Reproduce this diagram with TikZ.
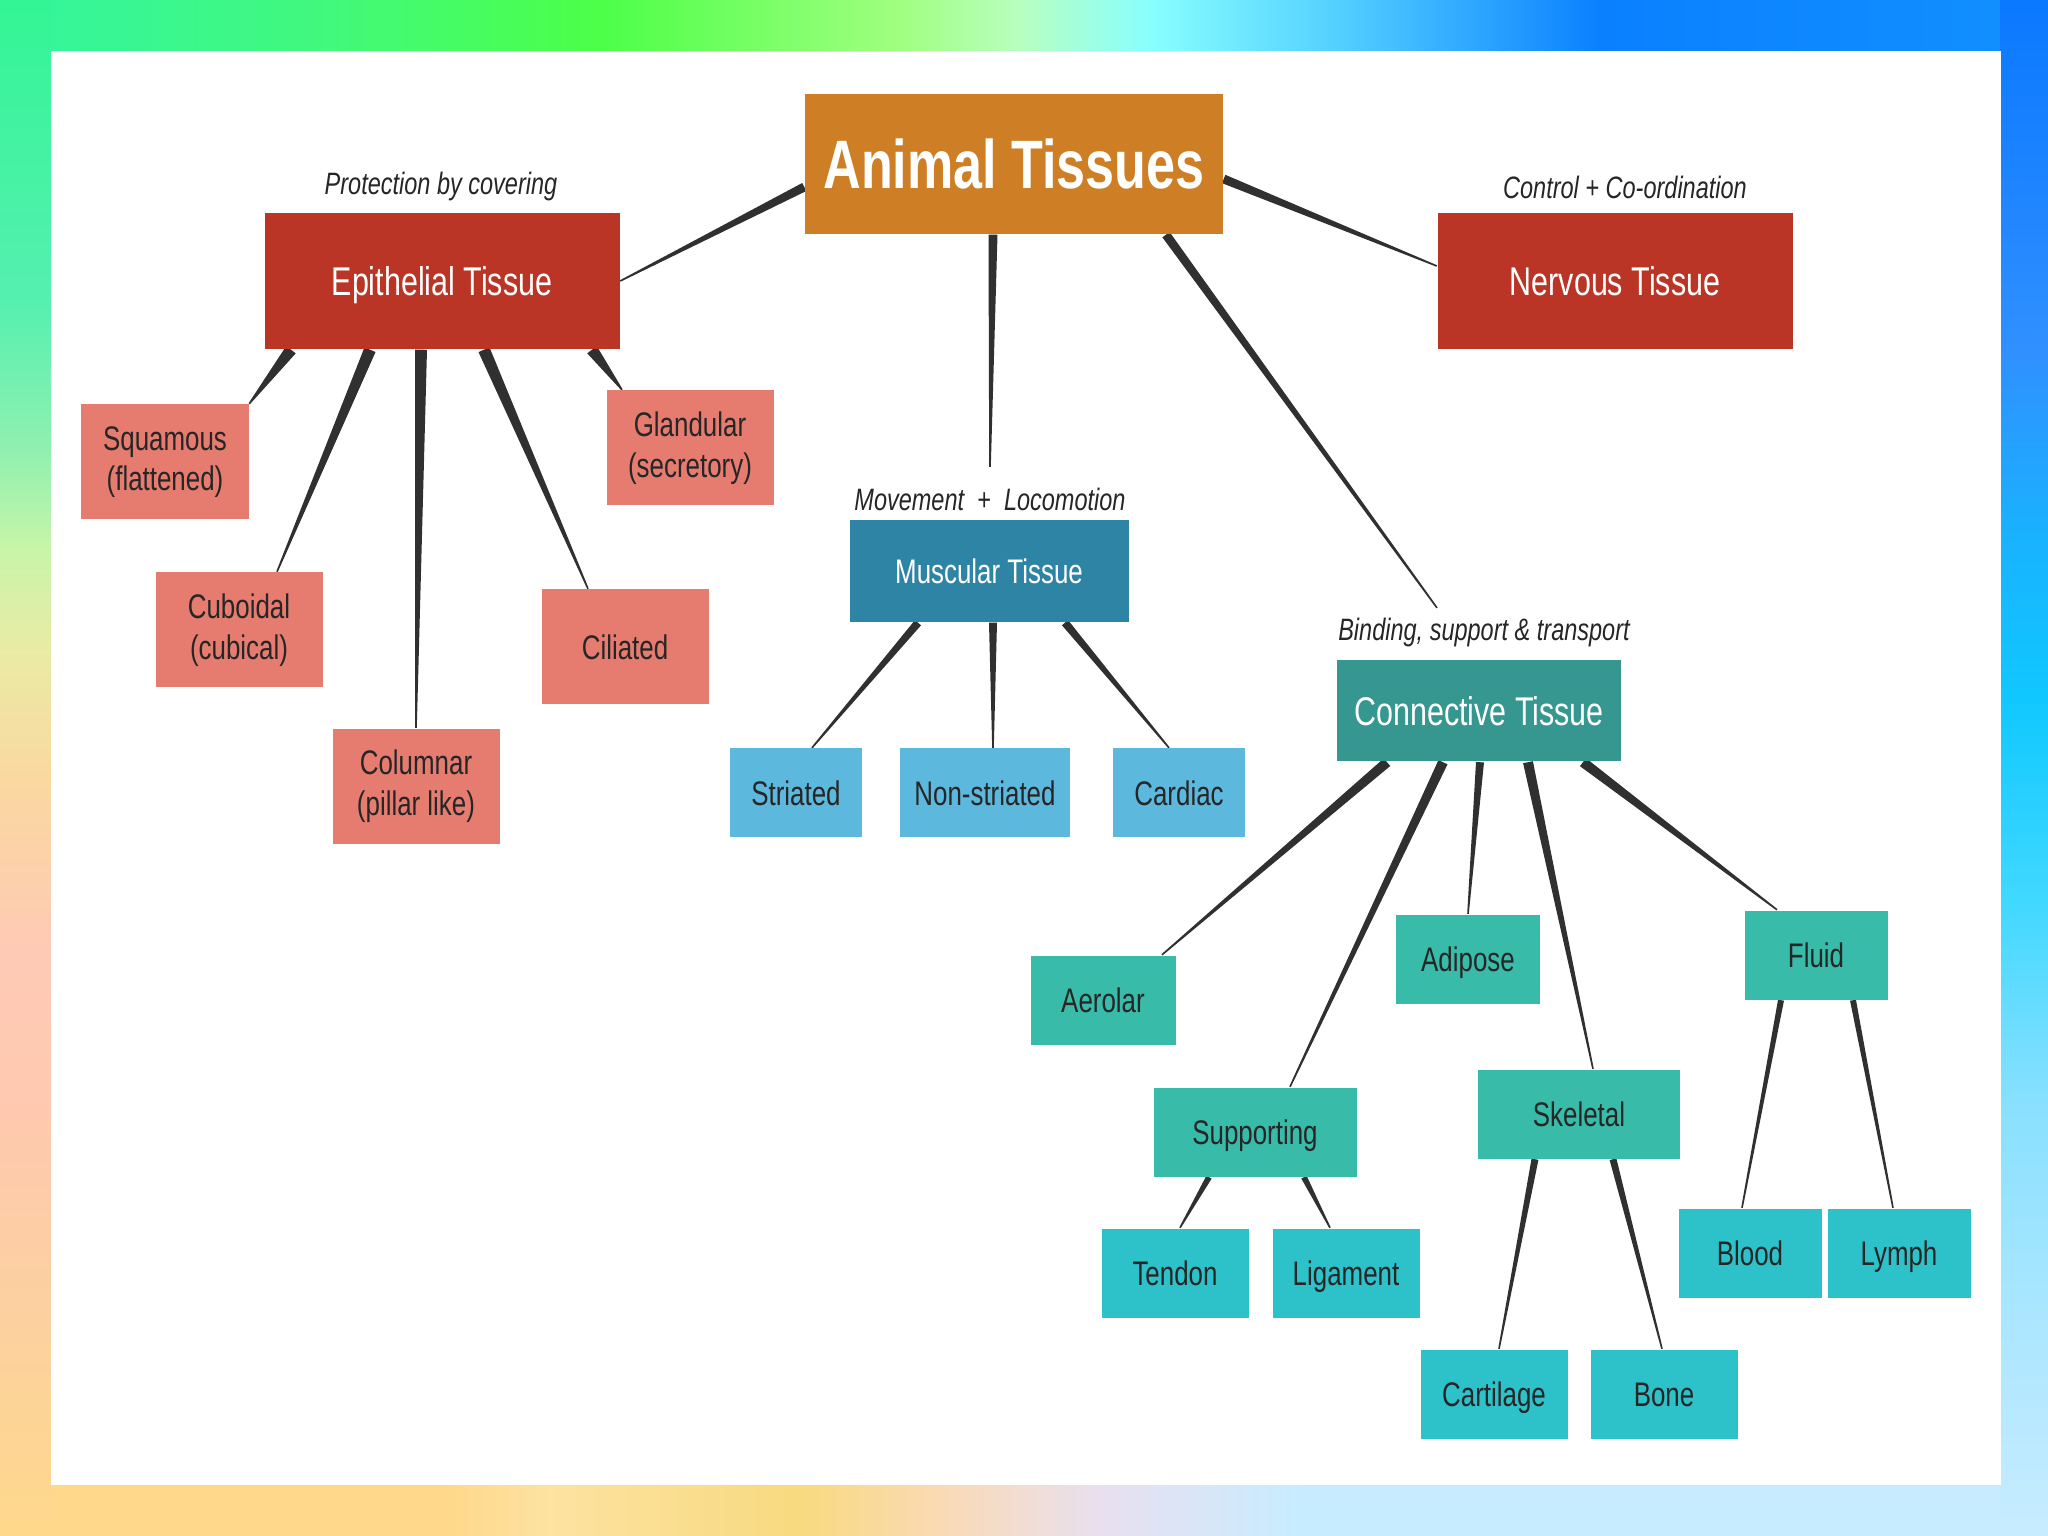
\documentclass[tikz,border=0pt]{standalone}
\usepackage{fontspec}
\setmainfont[FakeStretch=0.76]{Liberation Sans}
\usetikzlibrary{calc}
\pgfdeclarelayer{bg}
\pgfsetlayers{bg,main}
\definecolor{rootfill}{HTML}{CE7F26}
\definecolor{tisfill}{HTML}{BB3526}
\definecolor{epifill}{HTML}{E57C6F}
\definecolor{muscfill}{HTML}{2E84A4}
\definecolor{mkidfill}{HTML}{5DB8DE}
\definecolor{connfill}{HTML}{35978F}
\definecolor{ckidfill}{HTML}{38BBA9}
\definecolor{leaffill}{HTML}{2DC1C9}
\definecolor{ink}{HTML}{262626}
\definecolor{link}{HTML}{303030}

% tapered connector: thick at the parent, thin at the child
\newcommand{\taper}[3][0.05]{%
  \fill[link] ($#2!#1cm!90:#3$) -- ($#3!0.008cm!-90:#2$)
    -- ($#3!0.008cm!90:#2$) -- ($#2!#1cm!-90:#3$) -- cycle;}

\begin{document}
\begin{tikzpicture}[
  box/.style={inner sep=0pt, align=center, text=ink, font=\fontsize{9.7}{11.5}\selectfont},
  oneline/.style={text height=6.95pt, text depth=0pt},
  rootbox/.style={box, fill=rootfill, text=white, minimum width=4.18cm, minimum height=1.40cm,
    font=\fontsize{19.5}{22}\selectfont\bfseries, text height=14pt, text depth=0pt},
  tisbox/.style={box, fill=tisfill, text=white, minimum width=3.55cm, minimum height=1.36cm,
    font=\fontsize{11.4}{13}\selectfont, text height=8.2pt, text depth=0pt},
  epibox/.style={box, fill=epifill, minimum width=1.67cm, minimum height=1.15cm},
  muscbox/.style={box, oneline, fill=muscfill, text=white, minimum width=2.79cm, minimum height=1.02cm},
  mkid/.style={box, oneline, fill=mkidfill, minimum height=0.89cm},
  connbox/.style={box, fill=connfill, text=white, minimum width=2.84cm, minimum height=1.01cm,
    font=\fontsize{11.4}{13}\selectfont, text height=8.2pt, text depth=0pt},
  ckid/.style={box, oneline, fill=ckidfill, minimum height=0.89cm},
  leaf/.style={box, oneline, fill=leaffill, minimum width=1.47cm, minimum height=0.89cm},
  note/.style={inner sep=0pt, text=ink, font=\itshape\fontsize{8.8}{10}\selectfont},
]
\useasboundingbox (0,0) rectangle (20.48,-15.36);

% gradient frame
\begin{pgfonlayer}{bg}
\foreach \xa/\ha/\xb/\hb in {0/33F5A0/3/40F880, 3/40F880/6/4CFF48, 6/4CFF48/9/A0FF80,
    9/A0FF80/10.2/B8FFC0, 10.2/B8FFC0/11.5/88FFFF, 11.5/88FFFF/13.5/50CCFF,
    13.5/50CCFF/16/0A80FF, 16/0A80FF/20.48/1290FF}{
  \definecolor{ca}{HTML}{\ha}\definecolor{cb}{HTML}{\hb}
  \shade[left color=ca, right color=cb] (\xa,0) rectangle (\xb,-0.52);}
\foreach \xa/\ha/\xb/\hb in {0/FFD88C/4.5/FFD88C, 4.5/FFD88C/5.5/FDE2A0, 5.5/FDE2A0/8/F8DA80,
    8/F8DA80/9.5/FADAB8, 9.5/FADAB8/11/E8E0F0, 11/E8E0F0/13/C8ECFF, 13/C8ECFF/20.48/C8ECFF}{
  \definecolor{ca}{HTML}{\ha}\definecolor{cb}{HTML}{\hb}
  \shade[left color=ca, right color=cb] (\xa,-14.84) rectangle (\xb,-15.36);}
\foreach \ya/\ha/\yb/\hb in {0/33F595/3/55F0B0, 3/55F0B0/4.5/90F0B0, 4.5/90F0B0/5.5/C8F5A8,
    5.5/C8F5A8/6.5/EAEBA5, 6.5/EAEBA5/7.8/FAD8A0, 7.8/FAD8A0/9.5/FFCAB5, 9.5/FFCAB5/11/FFC8B0,
    11/FFC8B0/13/FCD0A0, 13/FCD0A0/15.36/FFD88C}{
  \definecolor{ca}{HTML}{\ha}\definecolor{cb}{HTML}{\hb}
  \shade[top color=ca, bottom color=cb] (0,-\ya) rectangle (0.52,-\yb);}
\foreach \ya/\ha/\yb/\hb in {0/0A78FF/3.5/3090FF, 3.5/3090FF/5.5/18B4FF, 5.5/18B4FF/7/10C8FF,
    7/10C8FF/9/40D8FF, 9/40D8FF/11/88E0FF, 11/88E0FF/13/A8E6FF, 13/A8E6FF/15.36/C8ECFF}{
  \definecolor{ca}{HTML}{\ha}\definecolor{cb}{HTML}{\hb}
  \shade[top color=ca, bottom color=cb] (20.00,-\ya) rectangle (20.48,-\yb);}
\fill[white] (0.51,-0.51) rectangle (20.01,-14.85);
\end{pgfonlayer}

% root and the four tissues
\node[rootbox] (animal) at (10.14,-1.64) {Animal Tissues};
\node[tisbox] (epi) at (4.42,-2.81) {Epithelial Tissue};
\node[tisbox] (nerv) at (16.15,-2.81) {Nervous Tissue};
\node[muscbox] (musc) at (9.89,-5.71) {Muscular Tissue};
\node[connbox] (conn) at (14.79,-7.11) {Connective Tissue};
\node[note] (protect) at (4.41,-1.87) {Protection by covering};
\node[note] (control) at (16.25,-1.87) {Control + Co-ordination};
\node[note] (move) at (9.90,-4.99) {Movement~~+~~Locomotion};
\node[note] (bind) at (14.84,-6.33) {Binding, support \& transport};

% epithelial kinds
\node[epibox] (squam) at (1.65,-4.62) {Squamous\\(flattened)};
\node[epibox] (gland) at (6.90,-4.48) {Glandular\\(secretory)};
\node[epibox] (cuboid) at (2.39,-6.30) {Cuboidal\\(cubical)};
\node[epibox, oneline] (cilia) at (6.25,-6.47) {Ciliated};
\node[epibox] (column) at (4.16,-7.86) {Columnar\\(pillar like)};

% muscular kinds
\node[mkid, minimum width=1.32cm] (striated) at (7.96,-7.93) {Striated};
\node[mkid, minimum width=1.70cm] (nonstr) at (9.85,-7.93) {Non-striated};
\node[mkid, minimum width=1.32cm] (cardiac) at (11.79,-7.93) {Cardiac};

% connective kinds
\node[ckid, minimum width=1.45cm] (aerolar) at (11.03,-10.00) {Aerolar};
\node[ckid, minimum width=1.44cm] (adipose) at (14.68,-9.59) {Adipose};
\node[ckid, minimum width=1.43cm] (fluid) at (18.16,-9.55) {Fluid};
\node[ckid, minimum width=2.03cm] (supp) at (12.55,-11.32) {Supporting};
\node[ckid, minimum width=2.02cm] (skel) at (15.79,-11.14) {Skeletal};
\node[leaf] (tendon) at (11.75,-12.73) {Tendon};
\node[leaf] (ligament) at (13.46,-12.73) {Ligament};
\node[leaf] (cartilage) at (14.94,-13.94) {Cartilage};
\node[leaf] (bone) at (16.64,-13.94) {Bone};
\node[leaf, minimum width=1.43cm] (blood) at (17.50,-12.53) {Blood};
\node[leaf, minimum width=1.43cm] (lymph) at (18.99,-12.53) {Lymph};

% connectors
\begin{pgfonlayer}{bg}
\taper[0.045]{([yshift=-0.23cm]animal.west)}{(epi.east)}
\taper[0.045]{([yshift=-0.15cm]animal.east)}{([yshift=0.15cm]nerv.west)}
\taper[0.045]{([xshift=-0.21cm]animal.south)}{([yshift=0.2cm]move.north)}
\taper[0.045]{([xshift=1.52cm]animal.south)}{([xshift=-0.47cm,yshift=0.1cm]bind.north)}
\taper[0.06]{([xshift=-1.51cm]epi.south)}{(squam.north east)}
\taper[0.06]{([xshift=-0.72cm]epi.south)}{([xshift=0.38cm]cuboid.north)}
\taper[0.06]{([xshift=-0.21cm]epi.south)}{(column.north)}
\taper[0.06]{([xshift=0.42cm]epi.south)}{([xshift=-0.37cm]cilia.north)}
\taper[0.06]{([xshift=1.50cm]epi.south)}{([xshift=-0.68cm]gland.north)}
\taper[0.04]{([xshift=-0.71cm]musc.south)}{([xshift=0.16cm]striated.north)}
\taper[0.04]{([xshift=0.04cm]musc.south)}{([xshift=0.08cm]nonstr.north)}
\taper[0.04]{([xshift=0.76cm]musc.south)}{([xshift=-0.10cm]cardiac.north)}
\taper[0.05]{([xshift=-0.92cm]conn.south)}{([xshift=0.59cm]aerolar.north)}
\taper[0.05]{([xshift=-0.36cm]conn.south)}{([xshift=0.35cm]supp.north)}
\taper[0.04]{([xshift=0.01cm]conn.south)}{(adipose.north)}
\taper[0.05]{([xshift=0.49cm]conn.south)}{([xshift=0.14cm]skel.north)}
\taper[0.05]{([xshift=1.04cm]conn.south)}{([xshift=-0.39cm]fluid.north)}
\taper[0.03]{([xshift=-0.46cm]supp.south)}{([xshift=0.05cm]tendon.north)}
\taper[0.03]{([xshift=0.49cm]supp.south)}{([xshift=-0.16cm]ligament.north)}
\taper[0.035]{([xshift=-0.44cm]skel.south)}{([xshift=0.05cm]cartilage.north)}
\taper[0.035]{([xshift=0.34cm]skel.south)}{([xshift=-0.02cm]bone.north)}
\taper[0.03]{([xshift=-0.35cm]fluid.south)}{([xshift=-0.08cm]blood.north)}
\taper[0.03]{([xshift=0.37cm]fluid.south)}{([xshift=-0.06cm]lymph.north)}
\end{pgfonlayer}
\end{tikzpicture}
\end{document}
